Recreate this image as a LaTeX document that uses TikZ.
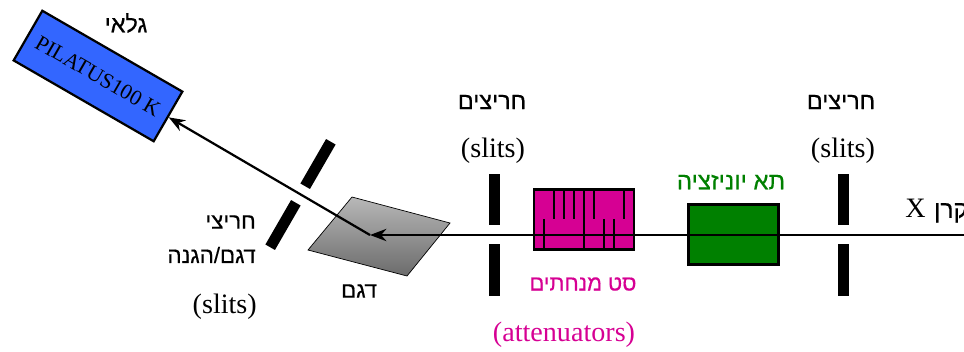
\documentclass[tikz,border=0pt]{standalone}
\usepackage{fontspec}
\setmainfont{Liberation Serif}
\newfontfamily\hebfont[Script=Hebrew,FakeBold=0.5]{Liberation Sans}
\TeXXeTstate=1
\definecolor{detblue}{RGB}{51, 102, 255}
\definecolor{attmagenta}{RGB}{214, 0, 147}
\definecolor{iongreen}{RGB}{0, 128, 0}
\newcommand{\heb}[2][19]{{\hebfont\fontsize{#1}{22}\selectfont\beginR #2\endR}}
\usetikzlibrary{arrows.meta, positioning}

\begin{document}
\begin{tikzpicture}[
  x=0.03cm, y=-0.03cm,
  slitbar/.style={fill=black, inner sep=0pt, minimum width=0.33cm, minimum height=1.54cm},
  devbox/.style={draw, line width=1.9pt, inner sep=0pt},
  lbl/.style={inner sep=0pt, font=\fontsize{24}{28}\selectfont},
  beam/.style={line width=1.9pt, -{Stealth[length=14pt, width=10.5pt]}}
]
  \useasboundingbox (0,0) rectangle (964,351);

  \node[devbox, fill=detblue, rotate=-30, minimum width=4.85cm, minimum height=1.72cm,
        font=\fontsize{18.5}{22}\selectfont] (detector) at (98,76) {PILATUS100 K\hspace{6pt}};
  \node[lbl, anchor=center] (detectorlbl) at (126,23) {\heb[20]{גלאי}};

  \node[slitbar, rotate=-30] (guardup) at (318,164) {};
  \node[slitbar, rotate=-30] (guarddown) at (283,225) {};
  \node[lbl, anchor=east] (guardlbla) at (256,222) {\heb{חריצי}};
  \node[lbl, anchor=east] (guardlblb) at (256,255) {\heb{דגם/הגנה}};
  \node[lbl, anchor=east] (guardlblc) at (257,307) {(slits)};

  \draw[line width=0.6pt, top color=black!28, bottom color=black!58]
    (352,197) -- (450,223) -- (407,276) -- (308,250) -- cycle;
  \coordinate (sample) at (370,235);
  \node[lbl] (samplelbl) at (359,291) {\heb{דגם}};

  \node[slitbar] (slitaup) at (494,199.5) {};
  \node[slitbar] (slitadown) at (494,270) {};
  \node[lbl] (slitalbl) at (492,102) {\heb[20]{חריצים}};
  \node[lbl] (slitalblb) at (493,151) {(slits)};

  \node[devbox, fill=attmagenta, minimum width=3.0cm, minimum height=1.8cm] (attenuators) at (584,219.5) {};
  \foreach \xpos in {554,564,574,594,624}
    \draw[line width=1.5pt] (\xpos,189) -- (\xpos,219);
  \foreach \xpos in {544,604,614}
    \draw[line width=1.5pt] (\xpos,219) -- (\xpos,250);
  \draw[line width=1.5pt] (584,189) -- (584,250);
  \node[lbl, text=attmagenta] (attlbl) at (583,284) {\heb[18.5]{סט מנחתים}};
  \node[lbl, text=attmagenta] (attlblb) at (564,335) {(attenuators)};

  \node[devbox, fill=iongreen, minimum width=2.7cm, minimum height=1.8cm] (ionchamber) at (733.5,234.5) {};
  \node[lbl, text=iongreen] (ionlbl) at (731,182) {\heb[20.5]{תא יוניזציה}};

  \node[slitbar] (slitbup) at (843.5,199.5) {};
  \node[slitbar] (slitbdown) at (843.5,270) {};
  \node[lbl] (slitblbl) at (841,102) {\heb[20]{חריצים}};
  \node[lbl] (slitblblb) at (843,151) {(slits)};

  \coordinate (source) at (964,235);
  \node[lbl, anchor=west] (sourcelbl) at (905,211) {X\hspace{0.3em}\heb[21]{קרן}};

  \draw[beam] (source) -- (sample);
  \draw[beam] (sample) -- (detector);
\end{tikzpicture}
\end{document}
